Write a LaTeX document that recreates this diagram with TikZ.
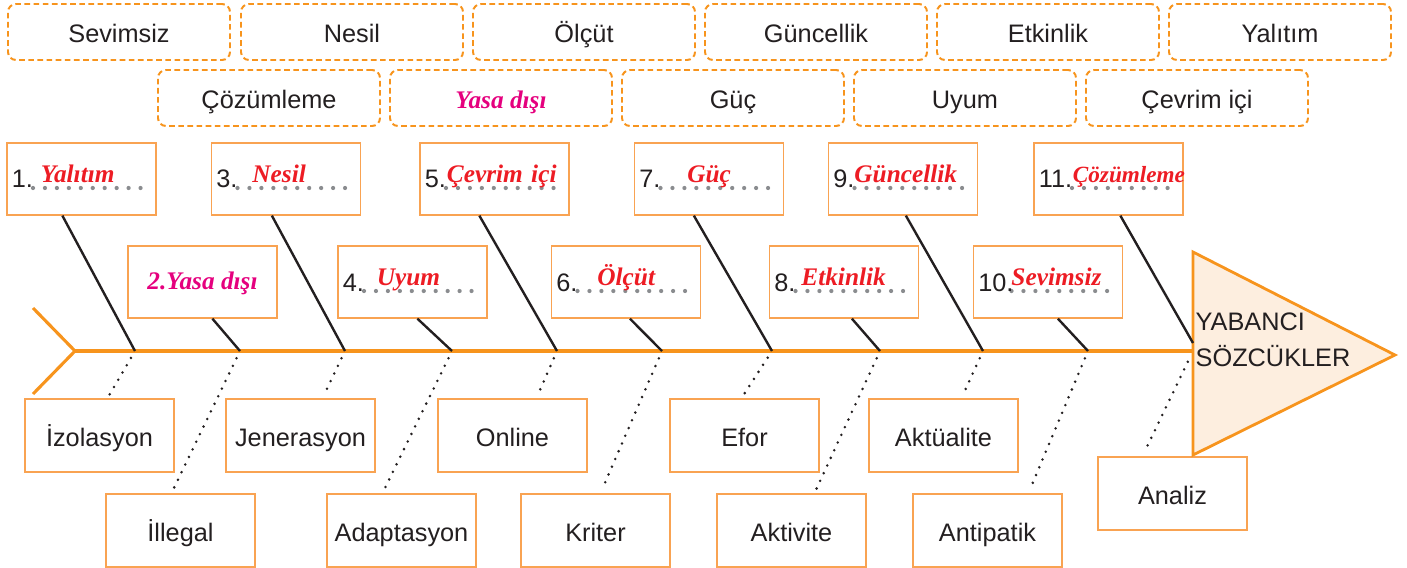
\documentclass[tikz,border=0pt]{standalone}
\usepackage{fontspec}
\setmainfont{Liberation Sans}
\newfontfamily\handfont{Liberation Serif}
\usetikzlibrary{calc}

\definecolor{fishorange}{HTML}{F7941D}
\definecolor{boxorange}{HTML}{F9A352}
\definecolor{headfill}{HTML}{FDEEDF}
\definecolor{answerred}{HTML}{ED1C24}
\definecolor{answerpink}{HTML}{E5007E}
\definecolor{inkgray}{HTML}{231F20}
\definecolor{dotgray}{HTML}{8A8C8F}

\newcommand{\blankword}[3]{#1\hspace*{#2}\raisebox{1.3mm}{\handfont\bfseries\itshape\color{answerred}#3}}

\begin{document}
\begin{tikzpicture}[x=0.25mm,y=-0.25mm,
	every node/.style={font=\fontsize{18}{20}\selectfont,text=inkgray},
	chip/.style={draw=fishorange,line width=1.4pt,dash pattern=on 4pt off 2.5pt,rounded corners=2mm,minimum width=55.5mm,minimum height=14mm,text height=18pt,text depth=2.4pt},
	box/.style={draw=boxorange,line width=0.9pt,minimum width=37.25mm,minimum height=18mm,text height=18pt,text depth=3pt},
	answer/.style={box,align=left,text width=34.85mm,inner xsep=1.2mm,text height=6mm,text depth=1.5mm,
		path picture={\draw[dotrow] ([xshift=#1,yshift=-2.25mm]path picture bounding box.west) -- ([xshift=-1.2mm,yshift=-2.25mm]path picture bounding box.east);}},
	answer/.default=6.5mm,
	pink/.style={text=answerpink,font=\fontsize{18}{20}\selectfont\handfont\bfseries\itshape},
	dotrow/.style={draw=dotgray,line width=3pt,line cap=round,dash pattern=on 0pt off 8.5pt},
	spine/.style={draw=fishorange,line width=2.2pt},
	bone/.style={draw=inkgray,line width=1.7pt},
	twig/.style={draw=inkgray,line width=2pt,line cap=round,dash pattern=on 0pt off 6pt,shorten <=2mm,shorten >=1mm}]
	\useasboundingbox (0,0) rectangle (1407,568);

	% word bank
	\node[chip] (w1) at (119,32) {Sevimsiz};
	\node[chip] (w2) at (352,32) {Nesil};
	\node[chip] (w3) at (584,32) {Ölçüt};
	\node[chip] (w4) at (816,32) {Güncellik};
	\node[chip] (w5) at (1048,32) {Etkinlik};
	\node[chip] (w6) at (1280,32) {Yalıtım};
	\node[chip] (w7) at (269,98) {Çözümleme};
	\node[chip,pink] (w8) at (501,98) {Yasa dışı};
	\node[chip] (w9) at (733,98) {Güç};
	\node[chip] (w10) at (965,98) {Uyum};
	\node[chip] (w11) at (1197,98) {Çevrim içi};

	% answer boxes above the spine
	\node[answer] (a1) at (81.5,179) {\blankword{1.}{2mm}{Yalıtım}};
	\node[answer] (a3) at (286,179) {\blankword{3.}{3.75mm}{Nesil}};
	\node[answer] (a5) at (494.5,179) {\blankword{5.}{0.25mm}{Çevrim içi}};
	\node[answer] (a7) at (709,179) {\blankword{7.}{6.75mm}{Güç}};
	\node[answer] (a9) at (903,179) {\blankword{9.}{0mm}{Güncellik}};
	\node[answer=9.5mm] (a11) at (1108.5,179) {\blankword{11.}{0.2mm}{\fontsize{16.5}{20}\selectfont Çözümleme}};
	\node[box,pink,text height=14pt,text depth=3pt] (a2) at (202.5,282) {2.Yasa dışı};
	\node[answer] (a4) at (412.5,282) {\blankword{4.}{3.25mm}{Uyum}};
	\node[answer] (a6) at (626,282) {\blankword{6.}{5mm}{Ölçüt}};
	\node[answer] (a8) at (844,282) {\blankword{8.}{1.5mm}{Etkinlik}};
	\node[answer=9.5mm] (a10) at (1048,282) {\blankword{10.}{-0.5mm}{Sevimsiz}};

	% foreign words below the spine
	\node[box,minimum height=18.25mm] (c1) at (99.5,435.5) {İzolasyon};
	\node[box,minimum height=18.25mm] (c2) at (300.5,435.5) {Jenerasyon};
	\node[box,minimum height=18.25mm] (c3) at (512.5,435.5) {Online};
	\node[box,minimum height=18.25mm] (c4) at (744.5,435.5) {Efor};
	\node[box,minimum height=18.25mm] (c5) at (943.5,435.5) {Aktüalite};
	\node[box,minimum height=18.25mm] (d1) at (180.5,530.5) {İllegal};
	\node[box,minimum height=18.25mm] (d2) at (401.5,530.5) {Adaptasyon};
	\node[box,minimum height=18.25mm] (d3) at (595.5,530.5) {Kriter};
	\node[box,minimum height=18.25mm] (d4) at (791.5,530.5) {Aktivite};
	\node[box,minimum height=18.25mm] (d5) at (987.5,530.5) {Antipatik};
	\node[box,minimum height=18.25mm] (e1) at (1172.5,493.5) {Analiz};

	% head and spine
	\draw[fishorange,fill=headfill,line width=2pt] (1193,252) -- (1395,355) -- (1193,455) -- cycle;
	\node[anchor=west,align=left,inner xsep=1pt,font=\fontsize{18}{26}\selectfont] (head) at (1194,340) {YABANCI\\SÖZCÜKLER};
	\coordinate (tail) at (75,351);
	\coordinate (nose) at (1193,351);
	\draw[spine] (33,308) -- (tail) -- (33,394);
	\draw[spine] (tail) -- (nose);

	\coordinate (j1) at (135,351);
	\coordinate (j2) at (240,351);
	\coordinate (j3) at (345,351);
	\coordinate (j4) at (452,351);
	\coordinate (j5) at (557,351);
	\coordinate (j6) at (662,351);
	\coordinate (j7) at (772,351);
	\coordinate (j8) at (880,351);
	\coordinate (j9) at (983,351);
	\coordinate (j10) at (1088,351);
	\coordinate (j11) at (1193,343);

	% bones
	\draw[bone] ([xshift=14mm]a1.south west) -- (j1);
	\draw[bone] ([xshift=21.25mm]a2.south west) -- (j2);
	\draw[bone] ([xshift=15.25mm]a3.south west) -- (j3);
	\draw[bone] ([xshift=20mm]a4.south west) -- (j4);
	\draw[bone] ([xshift=15mm]a5.south west) -- (j5);
	\draw[bone] ([xshift=19.75mm]a6.south west) -- (j6);
	\draw[bone] ([xshift=15mm]a7.south west) -- (j7);
	\draw[bone] ([xshift=20.75mm]a8.south west) -- (j8);
	\draw[bone] ([xshift=19.5mm]a9.south west) -- (j9);
	\draw[bone] ([xshift=21.25mm]a10.south west) -- (j10);
	\draw[bone] ([xshift=21.75mm]a11.south west) -- (j11);

	% dotted twigs
	\draw[twig] (j1) -- ([xshift=20.75mm]c1.north west);
	\draw[twig] (j2) -- ([xshift=16.5mm]d1.north west);
	\draw[twig] (j3) -- ([xshift=24.25mm]c2.north west);
	\draw[twig] (j4) -- ([xshift=14mm]d2.north west);
	\draw[twig] (j5) -- ([xshift=24.75mm]c3.north west);
	\draw[twig] (j6) -- ([xshift=20mm]d3.north west);
	\draw[twig] (j7) -- ([xshift=18mm]c4.north west);
	\draw[twig] (j8) -- ([xshift=24.5mm]d4.north west);
	\draw[twig] (j9) -- ([xshift=23.25mm]c5.north west);
	\draw[twig] (j10) -- ([xshift=29mm]d5.north west);
	\draw[twig,shorten <=3mm] (nose) -- ([xshift=11.25mm]e1.north west);
\end{tikzpicture}
\end{document}
